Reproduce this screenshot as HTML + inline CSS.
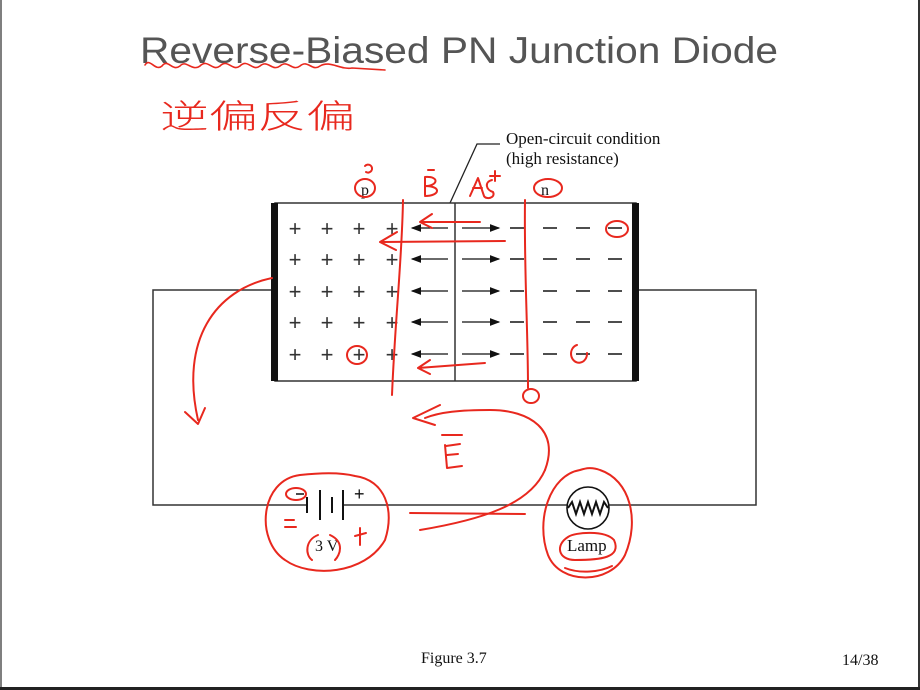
<!DOCTYPE html>
<html><head><meta charset="utf-8"><style>
html,body{margin:0;padding:0;background:#fff;}
svg{display:block;}
</style></head><body>
<svg width="920" height="690" viewBox="0 0 920 690" xmlns="http://www.w3.org/2000/svg">
<rect width="920" height="690" fill="#fff"/>
<line x1="1" y1="0" x2="1" y2="690" stroke="#555" stroke-width="1.5"/>
<line x1="919" y1="0" x2="919" y2="690" stroke="#333" stroke-width="2"/>
<line x1="0" y1="688.5" x2="920" y2="688.5" stroke="#222" stroke-width="3"/>

<text x="140" y="63" font-family="Liberation Sans, sans-serif" font-size="37" fill="#555" textLength="638" lengthAdjust="spacingAndGlyphs">Reverse-Biased PN Junction Diode</text>

<g font-family="Liberation Serif, serif" fill="#111">
<text x="506" y="144" font-size="17">Open-circuit condition</text>
<text x="506" y="164" font-size="17">(high resistance)</text>
<text x="361" y="195" font-size="16">p</text>
<text x="541" y="195" font-size="16">n</text>
<text x="315" y="551" font-size="16">3 V</text>
<text x="567" y="551" font-size="17">Lamp</text>
<text x="421" y="663" font-size="16">Figure 3.7</text>
<text x="842" y="665" font-size="16">14/38</text>
</g>

<polyline points="450,203 477,144 500,144" fill="none" stroke="#222" stroke-width="1.3"/>

<g stroke="#333" stroke-width="1.5" fill="none">
<polyline points="273,290 153,290 153,505 307,505"/>
<polyline points="638,290 756,290 756,505 608,505"/>
<line x1="343" y1="505" x2="568" y2="505"/>
</g>
<rect x="275" y="203" width="361" height="178" fill="none" stroke="#333" stroke-width="1.5"/>
<rect x="271" y="203" width="7" height="178" fill="#111"/>
<rect x="632" y="203" width="7" height="178" fill="#111"/>
<line x1="455" y1="203" x2="455" y2="381" stroke="#333" stroke-width="1.5"/>

<g font-family="Liberation Sans, sans-serif" font-size="22" fill="#333" text-anchor="middle">
<g id="row">
<text x="295" y="236">+</text><text x="327" y="236">+</text><text x="359" y="236">+</text><text x="392" y="236">+</text>
</g>
<use href="#row" y="31"/><use href="#row" y="63"/><use href="#row" y="94"/><use href="#row" y="126"/>
</g>
<g stroke="#222" stroke-width="1.6">
<g id="mrow"><line x1="510" y1="228" x2="524" y2="228"/><line x1="543" y1="228" x2="557" y2="228"/><line x1="576" y1="228" x2="590" y2="228"/><line x1="608" y1="228" x2="622" y2="228"/></g>
<use href="#mrow" y="31"/><use href="#mrow" y="63"/><use href="#mrow" y="94"/><use href="#mrow" y="126"/>
</g>
<defs>
<marker id="ah" markerWidth="8" markerHeight="6" refX="7" refY="3" orient="auto"><path d="M0,0 L8,3 L0,6 z" fill="#111"/></marker>
</defs>
<g stroke="#111" stroke-width="1.3" marker-end="url(#ah)">
<g id="arow"><line x1="448" y1="228" x2="412" y2="228"/><line x1="462" y1="228" x2="499" y2="228"/></g>
<use href="#arow" y="31"/><use href="#arow" y="63"/><use href="#arow" y="94"/><use href="#arow" y="126"/>
</g>

<g stroke="#111" stroke-width="2">
<line x1="307" y1="497" x2="307" y2="513"/>
<line x1="320" y1="490" x2="320" y2="520"/>
<line x1="332" y1="497" x2="332" y2="513"/>
<line x1="343" y1="490" x2="343" y2="520"/>
</g>
<text x="354" y="500" font-family="Liberation Sans, sans-serif" font-size="18" fill="#111">+</text>
<line x1="296" y1="494" x2="304" y2="494" stroke="#111" stroke-width="1.5"/>
<circle cx="588" cy="508" r="21" fill="#fff" stroke="#111" stroke-width="1.6"/>
<polyline points="568,508 572,502 576,514 580,502 584,514 588,502 592,514 596,502 600,514 604,502 608,508" fill="none" stroke="#111" stroke-width="2"/>

<g stroke="#e8281e" stroke-width="2" fill="none" stroke-linecap="round" stroke-linejoin="round">
<path d="M145,65 C150,57 155,72 162,66 C168,58 172,72 180,66 C186,59 192,72 200,66 C208,58 212,72 220,66 C228,58 232,72 240,66 C248,58 252,72 260,66 C268,59 272,72 280,66 C288,59 292,72 300,66 C308,59 312,72 320,66 C330,60 340,70 352,68 L385,70" stroke-width="1.6"/>
<path d="M403,200 C402,260 395,320 392,395"/>
<path d="M525,200 C524,270 528,330 528,388"/>
<ellipse cx="531" cy="396" rx="8" ry="7"/>
<path d="M480,222 L420,222 M432,214 L420,222 L432,228"/>
<path d="M505,241 L380,242 L397,232 M380,242 L396,250"/>
<path d="M485,363 L418,368 M430,360 L418,368 L430,374"/>
<ellipse cx="365" cy="188" rx="10" ry="9"/>
<path d="M365,166 a4,4 0 1,1 1,6"/>
<ellipse cx="548" cy="188" rx="14" ry="9"/>
<ellipse cx="617" cy="229" rx="11" ry="8"/>
<ellipse cx="357" cy="355" rx="10" ry="9"/>
<path d="M577,345 a8,9 0 1,0 10,8"/>
<path d="M425,177 L425,195 M425,177 C440,176 438,186 425,186 C442,186 440,196 425,196"/>
<path d="M428,170 L434,170"/>
<path d="M470,196 L478,178 L484,196 M473,188 L482,188 M492,180 C484,182 486,190 493,192 C496,198 486,200 484,196"/>
<path d="M490,176 L500,176 M495,171 L495,181"/>
<path d="M545,470 C560,430 530,410 490,410 C460,410 440,412 425,418 M440,405 L413,418 L435,425"/>
<path d="M442,435 L462,435 M445,445 L447,468 L462,466 M447,455 L458,454 M446,446 L460,444"/>
<path d="M545,470 C530,505 480,520 420,530"/>
<path d="M410,513 L525,514"/>
<path d="M272,278 C215,290 180,340 198,420 M185,412 L198,424 L205,408"/>
<path d="M300,475 C260,480 255,540 285,560 C310,578 365,575 385,540 C395,510 385,480 355,476 C340,472 318,473 300,475"/>
<ellipse cx="296" cy="494" rx="10" ry="6"/>
<path d="M285,520 L294,520 M285,527 L296,527"/>
<path d="M355,536 L366,533 M360,528 L360,545"/>
<path d="M318,535 C305,540 305,555 312,560 M330,535 C345,542 340,555 335,560"/>
<path d="M580,470 C550,475 535,520 548,555 C560,585 610,585 625,555 C640,520 630,480 600,470 C592,467 586,468 580,470"/>
<path d="M568,537 C555,545 558,560 575,560 C600,560 622,558 614,540 C605,530 575,532 568,537 M565,568 C580,574 600,572 612,566"/>
</g>
<text x="160" y="128" font-family="Noto Sans CJK SC, sans-serif" font-weight="300" font-size="33" fill="#e8281e" textLength="195" lengthAdjust="spacingAndGlyphs">逆偏反偏</text>
</svg>
</body></html>
